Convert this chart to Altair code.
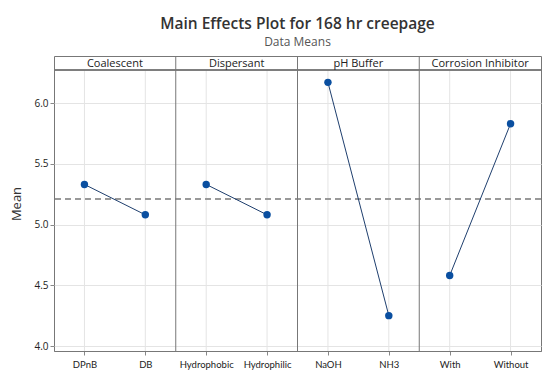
import altair as alt
import pandas as pd

factors = ["Coalescent", "Coalescent", "Dispersant", "Dispersant",
           "pH Buffer", "pH Buffer", "Corrosion Inhibitor", "Corrosion Inhibitor"]
levels = ["DPnB", "DB", "Hydrophobic", "Hydrophilic", "NaOH", "NH3", "With", "Without"]
orders = [0, 1, 0, 1, 0, 1, 0, 1]
means = [5.33, 5.08, 5.33, 5.08, 6.17, 4.25, 4.58, 5.83]
grand_mean = 5.21
factor_order = ["Coalescent", "Dispersant", "pH Buffer", "Corrosion Inhibitor"]
y_ticks = [4.0, 4.5, 5.0, 5.5, 6.0]

# table built from the arrays: each factor occupies one unit of x, levels sit at 1/4 and 3/4
fidx = [factor_order.index(f) for f in factors]
df = pd.DataFrame({"factor": factors, "level": levels, "order": orders, "mean": means,
                   "pos": [i + 0.25 + 0.5 * o for i, o in zip(fidx, orders)]})
hdr = pd.DataFrame({"factor": factor_order,
                    "mid": [i + 0.5 for i in range(len(factor_order))],
                    "edge": [i for i in range(len(factor_order))]})

W = 487
H = 295
HDR = 14

label_js = "[" + ",".join("'%s'" % l for l in levels) + "]"
x_scale = alt.Scale(domain=[0, len(factor_order)], nice=False, zero=False)
x_enc = alt.X("pos:Q", scale=x_scale,
              axis=alt.Axis(title=None, values=list(df["pos"]), grid=False,
                            labelExpr=label_js + "[round((datum.value-0.25)*2)]",
                            labelFontSize=9.5, labelFont="Lato", labelColor="#222",
                            tickColor="#888", domainColor="#777", tickSize=4,
                            labelPadding=4, labelFlush=False, labelOverlap=False))
y_scale = alt.Scale(domain=[3.959, 6.387], nice=False, zero=False)
y_enc = alt.Y("mean:Q", scale=y_scale,
              axis=alt.Axis(title="Mean", values=y_ticks, format=".1f", grid=True,
                            gridColor="#e4e4e4", labelFontSize=10, labelColor="#222",
                            titleFontSize=13, titleFontWeight="normal", titleColor="#333",
                            tickColor="#888", tickSize=4, domain=False, titlePadding=10))

base = alt.Chart(df)

vgrid = base.mark_rule(color="#e4e4e4", strokeWidth=1).encode(
    x=alt.X("pos:Q", scale=x_scale), y=alt.value(HDR), y2=alt.value(H))

mean_rule = base.mark_rule(color="#999", strokeDash=[6, 4], strokeWidth=1).encode(
    y=alt.Y(datum=grand_mean, scale=y_scale))

line = base.mark_line(color="#1f3f6e", strokeWidth=1).encode(
    x=x_enc, y=y_enc, detail="factor:N", order="order:Q")
pts = base.mark_circle(color="#0a4fa0", opacity=1, size=55).encode(x=x_enc, y=y_enc)

sep = alt.Chart(hdr).mark_rule(color="#777", strokeWidth=1).encode(
    x=alt.X("edge:Q", scale=x_scale), y=alt.value(0), y2=alt.value(H)
).transform_filter(alt.datum.edge > 0)
hdr_rule = alt.Chart(hdr).mark_rule(color="#777", strokeWidth=1).encode(
    y=alt.value(HDR), x=alt.value(0), x2=alt.value(W))
hdr_text = alt.Chart(hdr).mark_text(font="Open Sans", fontSize=11, color="#222",
                                    baseline="middle").encode(
    x=alt.X("mid:Q", scale=x_scale), y=alt.value(HDR / 2 + 0.5), text="factor:N")

chart = alt.layer(vgrid, mean_rule, line, pts, sep, hdr_rule, hdr_text).properties(
    width=W, height=H,
    padding={"left": 2, "top": 9, "right": 5, "bottom": 5},
    title=alt.TitleParams("Main Effects Plot for 168 hr creepage", subtitle="Data Means",
                          anchor="middle", font="Open Sans", fontSize=15.5, fontWeight=600,
                          color="#333", subtitleFont="Open Sans", subtitleFontSize=12,
                          subtitleColor="#555", offset=8, subtitlePadding=4)
).configure_view(stroke="#777", strokeWidth=1).configure_axis(
    labelFont="Open Sans", titleFont="Open Sans")

chart.save("out.html", embed_options={"renderer": "svg", "actions": False})
